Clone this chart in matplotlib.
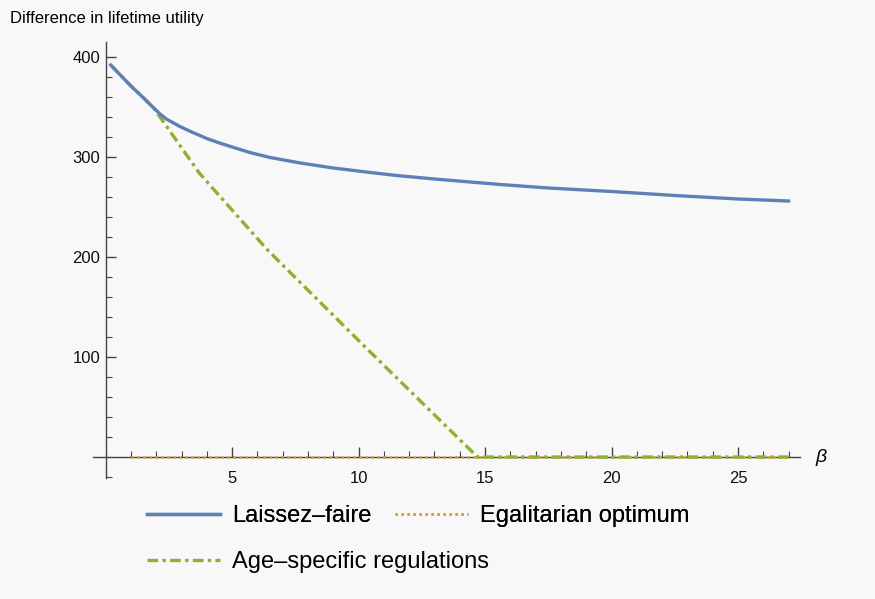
import matplotlib.pyplot as plt
from matplotlib.ticker import MultipleLocator

plt.rcParams['font.family'] = ['Liberation Sans', 'DejaVu Sans']

# values
beta_lf = [0.2, 1.0, 1.5, 1.9, 2.15, 2.4, 2.9, 3.4, 4.0, 4.5, 5.0, 5.7, 6.5, 7.7, 9.0,
           10.3, 11.5, 13.0, 15.6, 17.5, 20.0, 22.5, 25.0, 27.0]
util_lf = [392, 371, 359, 349, 343, 338, 331, 325, 318.5, 314, 310, 304.5, 299.5, 294, 289,
           285, 281.5, 278, 272.5, 269, 265.5, 261.5, 258, 256]

beta_eo = [1.0, 27.0]
util_eo = [0, 0]

beta_as = [0.2, 1.0, 1.5, 1.9, 3.7, 6.4, 10.3, 14.7, 27.0]
util_as = [392, 371, 359, 349, 284, 207, 109, 0, 0]

blue = '#5E81B5'
orange = '#E19C24'
green = '#8FB032'
bg = '#f8f8f8'

fig = plt.figure(figsize=(8.75, 5.99), dpi=100, facecolor=bg)
ax = fig.add_axes([93/875, 121/599, 707/875, 436/599])
ax.set_facecolor(bg)

l_eo, = ax.plot(beta_eo, util_eo, color=orange, lw=1.8, ls=(0, (1.0, 1.4)), zorder=3,
                label='Egalitarian optimum')
l_as, = ax.plot(beta_as, util_as, color=green, lw=2.4, ls=(0, (3.2, 1.3, 1.0, 1.3)), zorder=3,
                label='Age–specific regulations')
l_lf, = ax.plot(beta_lf, util_lf, color=blue, lw=2.4, zorder=4, label='Laissez–faire')

ax.set_xlim(-0.5, 27.45)
ax.set_ylim(-21, 415)

for s in ['top', 'right']:
    ax.spines[s].set_visible(False)
ax.spines['left'].set_position(('data', 0))
ax.spines['bottom'].set_position(('data', 0))
for s in ['left', 'bottom']:
    ax.spines[s].set_color('#444444')
    ax.spines[s].set_linewidth(1.0)

ax.set_xticks([5, 10, 15, 20, 25])
ax.set_yticks([100, 200, 300, 400])
ax.xaxis.set_minor_locator(MultipleLocator(1))
ax.yaxis.set_minor_locator(MultipleLocator(20))
ax.tick_params(which='both', direction='in', color='#444444', labelsize=12, labelcolor='#111111')
ax.tick_params(which='major', length=7, width=1.0)
ax.tick_params(which='minor', length=4, width=0.8)
ax.tick_params(axis='x', pad=10)
ax.tick_params(axis='y', pad=4)

fig.text(10/875, 1 - 18/599, 'Difference in lifetime utility', fontsize=12, va='center', ha='left')
fig.text(815/875, 1 - 458/599, 'β', fontsize=14, style='italic', va='center', ha='left')

# legend: two rows, placed under the plot
leg_kw = dict(frameon=False, fontsize=17, loc='upper left', borderpad=0, borderaxespad=0,
              handlelength=3.1, handletextpad=0.5, columnspacing=1.0)
leg1 = fig.legend(handles=[l_lf, l_eo], ncol=2, bbox_to_anchor=(147/875, 1 - 505/599), **leg_kw)
fig.add_artist(leg1)
fig.legend(handles=[l_as], bbox_to_anchor=(147/875, 1 - 551/599), **leg_kw)

fig.savefig('out.png', dpi=100, facecolor=bg)
